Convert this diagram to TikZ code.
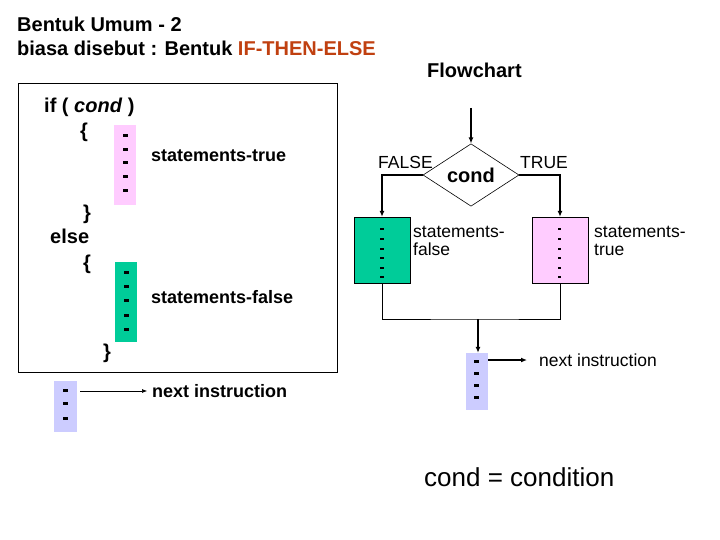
\documentclass[tikz,border=0pt]{standalone}
\usepackage{fontspec}
\setmainfont{Liberation Sans}
\usetikzlibrary{shapes.geometric,arrows.meta}

\definecolor{ifrosso}{RGB}{192,64,16}
\definecolor{rosa}{RGB}{255,204,255}
\definecolor{verde}{RGB}{0,204,153}
\definecolor{lilla}{RGB}{204,204,255}

\tikzset{
    titolo/.style={anchor=west, inner sep=0pt, font=\bfseries\fontsize{20}{24}\selectfont},
    codice/.style={anchor=west, inner sep=0pt, font=\bfseries\fontsize{20}{24}\selectfont},
    istr/.style={anchor=west, inner sep=0pt, font=\bfseries\fontsize{18}{22}\selectfont},
    etich/.style={anchor=west, inner sep=0pt, align=left, font=\fontsize{17.5}{18}\selectfont},
    blocco/.style={inner sep=0pt}
}

\begin{document}
\begin{tikzpicture}[x=1pt, y=-1pt, >={Latex[length=6pt,width=5pt]}]
        \useasboundingbox (0,0) rectangle (720,540);

        % Titoli
        \node[titolo] (tit1) at (17,24) {Bentuk Umum - 2};
        \node[titolo] (tit2) at (17,48) {biasa disebut : Bentuk \textcolor{ifrosso}{IF-THEN-ELSE}};
        \node[titolo] (flow) at (427,70) {Flowchart};

        % Riquadro del codice
        \draw[semithick] (18,83) rectangle (337,372);
        \node[codice] (ifcond) at (44,107) {if ( \textit{cond} )};
        \node[codice] (graffa1) at (80,132) {\{};
        \node[codice] (graffa2) at (83,214) {\}};
        \node[codice] (else) at (50,236) {else};
        \node[codice] (graffa3) at (83,264) {\{};
        \node[codice] (graffa4) at (103,353) {\}};

        % Blocchi di istruzioni
        \node[blocco, fill=rosa, minimum width=22pt, minimum height=80pt] (veroA) at (125,165) {};
        \foreach \y in {136,150,163,177,191} \fill (122.5,\y-1.5) rectangle ++(5,3);
        \node[istr] (stvero) at (151,156) {statements-true};
        \node[blocco, fill=verde, minimum width=22pt, minimum height=80pt] (falsoA) at (126,302) {};
        \foreach \y in {272,286,300,315,329} \fill (123.5,\y-1.5) rectangle ++(5,3);
        \node[istr] (stfalso) at (151,297) {statements-false};

        % Istruzione successiva (codice)
        \node[blocco, fill=lilla, minimum width=23pt, minimum height=51pt] (lillaA) at (65.5,406.5) {};
        \foreach \y in {390,403,418} \fill (62.5,\y-1.5) rectangle ++(5,3);
        \node[istr] (prossA) at (152,391) {next instruction};
        \draw[semithick,-{Latex[length=5pt,width=4pt]}] ([xshift=3pt]lillaA.east |- prossA.west) -- ([xshift=-5pt]prossA.west);

        % Diagramma di flusso
        \coordinate (ingresso) at (471,108);
        \node[diamond, draw, semithick, inner sep=0pt, minimum width=96pt, minimum height=60pt,
              font=\bfseries\fontsize{20}{24}\selectfont] (cond) at (471,175) {cond};
        \draw[very thick,->] (ingresso) -- (cond.north);

        \node[etich] (lfalse) at (378,162) {FALSE};
        \node[etich] (ltrue) at (520,163) {TRUE};

        \node[blocco, draw, fill=verde, minimum width=56pt, minimum height=66pt] (falsoB) at (382,250) {};
        \foreach \y in {229,239,249,258,268,277} \fill (380.2,\y-1) rectangle ++(3.6,2);
        \node[etich] (efalso) at (413,241) {statements-\\false};
        \node[blocco, draw, fill=rosa, minimum width=56pt, minimum height=66pt] (veroB) at (560,250) {};
        \foreach \y in {229,239,249,258,268,277} \fill (557.7,\y-1) rectangle ++(3.6,2);
        \node[etich] (evero) at (594,241) {statements-\\true};

        \draw[very thick,->] (cond.west) -| (falsoB.north);
        \draw[very thick,->] (cond.east) -| (veroB.north);

        % Unione dei rami
        \coordinate (unione) at (478,319);
        \draw[semithick] (falsoB.south) |- (unione) -| (veroB.south);

        \node[blocco, fill=lilla, minimum width=22pt, minimum height=57pt] (lillaB) at (477,381.5) {};
        \foreach \y in {361,373,385,397} \fill (473.5,\y-1.5) rectangle ++(5,3);
        \draw[very thick,->] (unione) -- (unione |- lillaB.north);
        \node[etich] (prossB) at (539,360) {next instruction};
        \draw[very thick,->] (lillaB.east |- prossB.west) -- ([xshift=-12pt]prossB.west);

        % Legenda
        \node[anchor=west, inner sep=0pt, font=\fontsize{26}{30}\selectfont] (legenda) at (424,477) {cond = condition};
    \end{tikzpicture}
\end{document}
